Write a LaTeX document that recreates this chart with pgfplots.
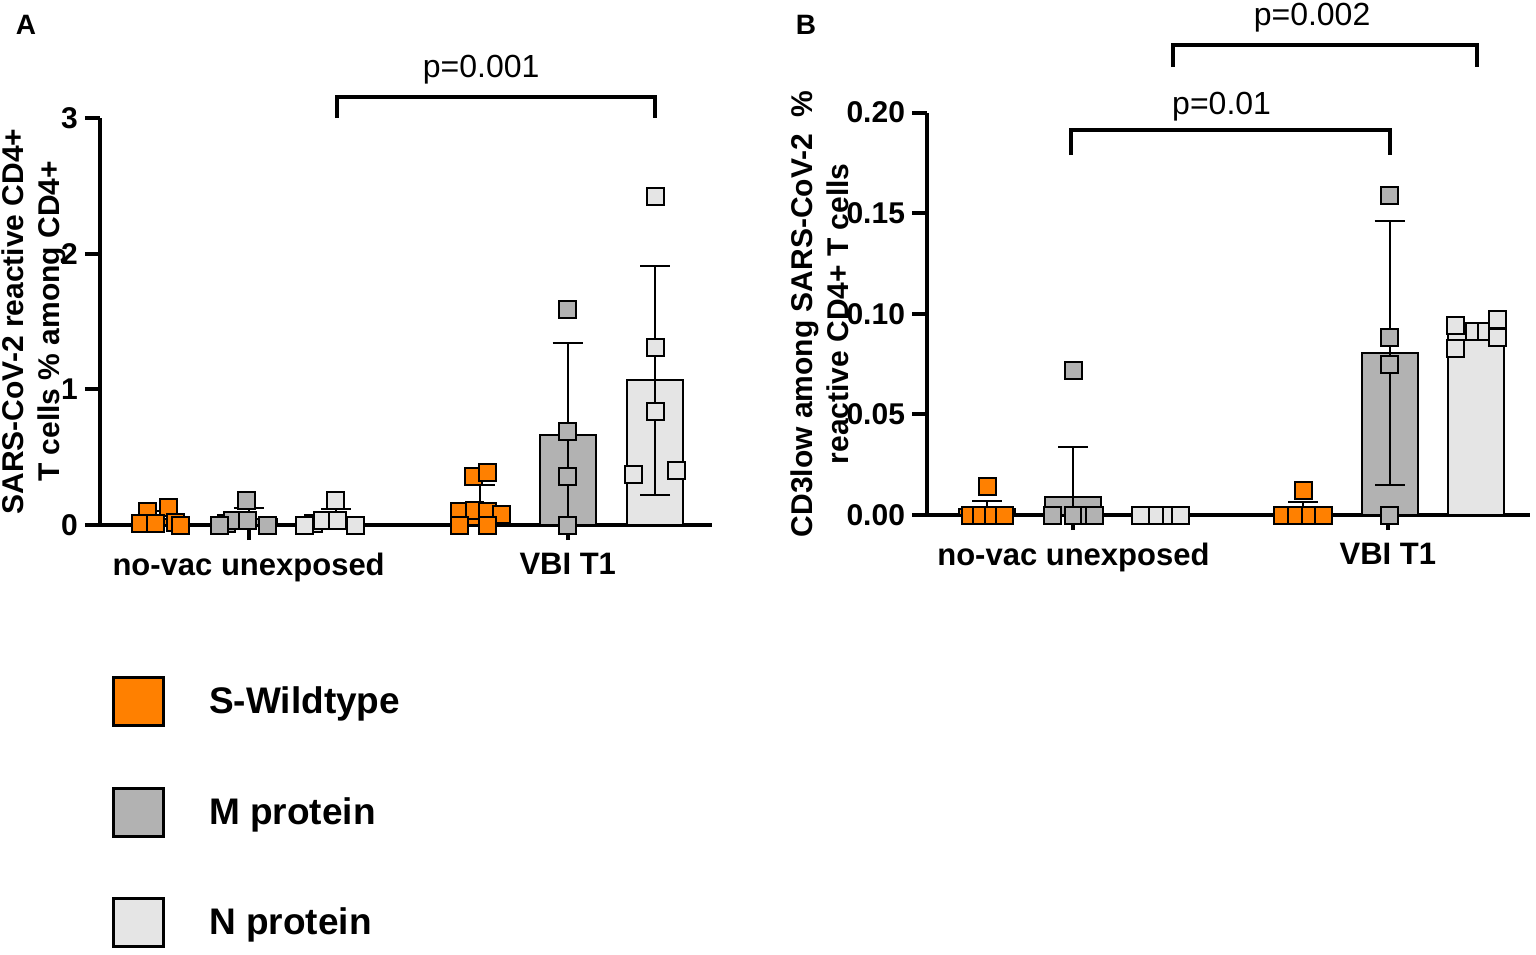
\documentclass[border=0pt]{standalone}
\usepackage{fontspec}
\setmainfont{Liberation Sans}
\usepackage{pgfplots}
\pgfplotsset{compat=1.18}

\definecolor{swt}{RGB}{255,128,0}
\definecolor{mprot}{RGB}{178,178,178}
\definecolor{nprot}{RGB}{229,229,229}

\pgfplotsset{
  panel/.style={
    scale only axis, clip=false,
    axis lines=left, axis line style={line width=2pt, -},
    xmin=0, xmax=7, ymin=0,
    xtick={1.7,5.35}, xticklabels={no-vac unexposed, VBI T1},
    tick align=outside, major tick length=7.5pt,
    tick style={line width=2pt, black},
    ticklabel style={font=\fontsize{15}{18}\selectfont\bfseries},
    xticklabel style={font=\fontsize{15.5}{18}\selectfont\bfseries, yshift=-3pt},
    /pgf/number format/assume math mode=true,
    ylabel style={font=\fontsize{15}{18}\selectfont\bfseries, align=center, anchor=center},
  },
  bar/.style={ybar, bar shift=0pt, bar width=28pt, draw=black, line width=1pt, fill=#1,
    legend image code/.code={\draw[line width=1.5pt, draw=black, fill=#1] (0pt,-12pt) rectangle (25pt,12pt);},
    error bars/.cd, y dir=both, y explicit,
    error bar style={line width=1pt, black},
    error mark options={rotate=90, mark size=7.5pt, line width=1pt, black}},
  pts/.style={only marks, mark=square*, mark size=4.25pt, forget plot,
    mark options={draw=black, fill=#1, line width=1pt}},
  bracket/.style={black, line width=2pt, mark=none, forget plot},
}

\begin{document}
\begin{tikzpicture}
\path[use as bounding box] (0pt,0pt) rectangle (768pt,-477pt);

\node[font=\fontsize{14}{16}\selectfont\bfseries] at (13pt,-12.5pt) {A};
\node[font=\fontsize{14}{16}\selectfont\bfseries] at (403pt,-12.5pt) {B};

% ---------- panel A ----------
\begin{axis}[panel,
  at={(50pt,-262.5pt)}, anchor=origin,
  width=306pt, height=203.5pt,
  ymax=3, ytick={0,1,2,3},
  ylabel={SARS-CoV-2 reactive CD4+\\T cells \% among CD4+},
  ylabel style={at={(axis description cs:-0.108,0.5)}},
  legend style={at={(axis description cs:0.0096,-0.361)}, anchor=north west,
    draw=none, fill=none, font=\fontsize{18.5}{22}\selectfont\bfseries,
    row sep=29.75pt, column sep=20pt},
  legend cell align=left,
]
\addplot[bar=swt] coordinates {(0.7,0.045) += (0,0.055) -= (0,0) (4.35,0.142) += (0,0.15) -= (0,0)};
\addlegendentry{S-Wildtype}
\addplot[bar=mprot] coordinates {(1.7,0.042) += (0,0.08) -= (0,0.042) (5.35,0.66) += (0,0.68) -= (0,0.66)};
\addlegendentry{M protein}
\addplot[bar=nprot] coordinates {(2.7,0.04) += (0,0.08) -= (0,0.04) (6.35,1.07) += (0,0.84) -= (0,0.85)};
\addlegendentry{N protein}

\addplot[pts=swt] coordinates {
  (0.54,0.10) (0.78,0.13) (0.46,0.01) (0.63,0.01) (0.86,0.02) (0.92,0.0)
  (4.27,0.36) (4.43,0.39) (4.11,0.10) (4.28,0.105) (4.43,0.10) (4.59,0.08) (4.11,0.0) (4.43,0.0)};
\addplot[pts=mprot] coordinates {
  (1.68,0.18) (1.45,0.01) (1.52,0.03) (1.69,0.03) (1.92,0.0) (1.37,0.0)
  (5.35,1.59) (5.35,0.69) (5.35,0.36) (5.35,0.0)};
\addplot[pts=nprot] coordinates {
  (2.69,0.18) (2.44,0.01) (2.54,0.03) (2.72,0.03) (2.92,0.0) (2.34,0.0)
  (6.35,2.42) (6.35,1.31) (6.35,0.84) (6.10,0.37) (6.59,0.40)};

\addplot[bracket] coordinates {(2.71,3.0) (2.71,3.155) (6.35,3.155) (6.35,3.0)};
\node[font=\fontsize{16}{18}\selectfont] at (axis cs:4.36,3.36) {p=0.001};
\end{axis}

% ---------- panel B ----------
\begin{axis}[panel,
  at={(463.5pt,-257.5pt)}, anchor=origin,
  width=301.5pt, height=201.2pt,
  ymax=0.2, ytick={0,0.05,0.10,0.15,0.20},
  scaled y ticks=false,
  yticklabel style={/pgf/number format/fixed, /pgf/number format/fixed zerofill, /pgf/number format/precision=2},
  ylabel={CD3low among SARS-CoV-2\ \ \%\\reactive CD4+ T cells},
  ylabel style={at={(axis description cs:-0.1775,0.5)}},
]
\addplot[bar=swt] coordinates {(0.70,0.003) += (0,0.004) -= (0,0) (4.37,0.0024) += (0,0.0042) -= (0,0)};
\addplot[bar=mprot] coordinates {(1.70,0.009) += (0,0.025) -= (0,0.009) (5.37,0.0805) += (0,0.0655) -= (0,0.0655)};
\addplot[bar=nprot] coordinates {(2.70,0.0) += (0,0) -= (0,0) (6.37,0.091) += (0,0.004) -= (0,0.004)};

\addplot[pts=swt] coordinates {
  (0.70,0.014) (0.50,0.0) (0.63,0.0) (0.77,0.0) (0.90,0.0)
  (4.37,0.012) (4.13,0.0) (4.29,0.0) (4.45,0.0) (4.60,0.0)};
\addplot[pts=mprot] coordinates {
  (1.70,0.072) (1.46,0.0) (1.70,0.0) (1.89,0.0) (1.95,0.0)
  (5.37,0.159) (5.37,0.088) (5.37,0.075) (5.37,0.0)};
\addplot[pts=nprot] coordinates {
  (2.48,0.0) (2.68,0.0) (2.84,0.0) (2.94,0.0)
  (6.13,0.094) (6.36,0.091) (6.49,0.091) (6.62,0.097) (6.62,0.088) (6.13,0.083)};

\addplot[bracket] coordinates {(1.67,0.1789) (1.67,0.1913) (5.375,0.1913) (5.375,0.1789)};
\node[font=\fontsize{16}{18}\selectfont] at (axis cs:3.42,0.2032) {p=0.01};
\addplot[bracket] coordinates {(2.86,0.2226) (2.86,0.2335) (6.385,0.2335) (6.385,0.2226)};
\node[font=\fontsize{16}{18}\selectfont] at (axis cs:4.47,0.2474) {p=0.002};
\end{axis}
\end{tikzpicture}
\end{document}
